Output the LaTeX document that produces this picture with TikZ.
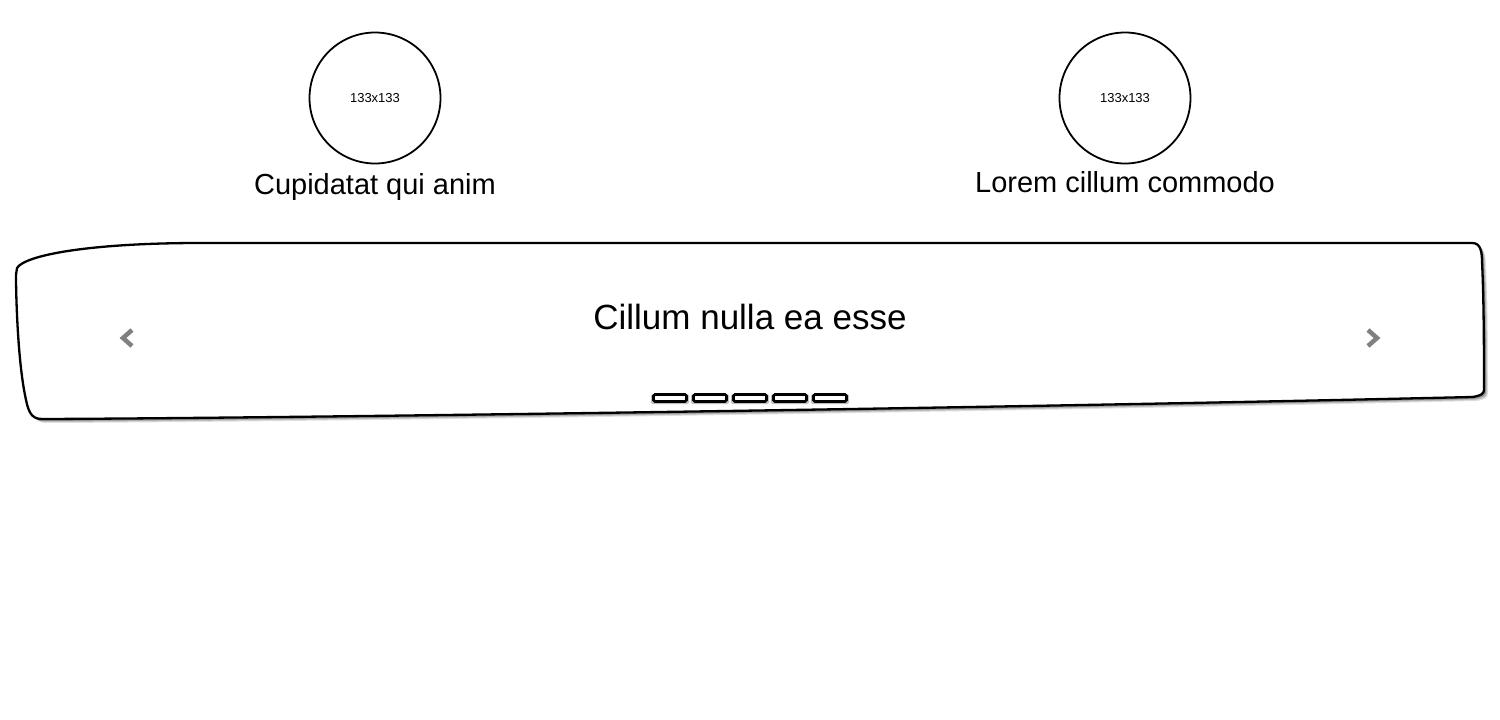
\documentclass[tikz,border=0pt]{standalone}
\usepackage{fontspec}
\setmainfont{Liberation Sans}
\begin{document}
\begin{tikzpicture}[x=1pt,y=-1pt,
  avatar/.style={circle,draw=black,line width=1.8pt,minimum size=131pt,inner sep=0pt,font=\fontsize{13}{15}\selectfont},
  caption/.style={font=\fontsize{29}{34}\selectfont,inner sep=0pt},
  chev/.style={draw=black!50,line width=4.5pt,line cap=butt,line join=miter},
  dotbar/.style={draw=black,fill=white,line width=2.6pt,rounded corners=1.5pt,minimum width=33pt,minimum height=7pt,inner sep=0pt}]
\useasboundingbox (0,0) rectangle (1500,720);
\fill[white] (0,0) rectangle (1500,720);
\newcommand\carouselpath{(17,268) .. controls (25,255) and (90,243) .. (200,243) -- (1472,243) .. controls (1480,243) and (1482,250) .. (1482,262) .. controls (1484,300) and (1484,360) .. (1484,390) .. controls (1484,394) and (1480,396) .. (1472,397) .. controls (1000,408) and (300,418) .. (42,419) .. controls (30,419) and (28,410) .. (25,395) .. controls (18,360) and (16,300) .. (16,275) -- cycle}
% shadow
\foreach \o/\op in {4/0.12,3/0.15,2/0.22}{
  \fill[black,opacity=\op,shift={(\o pt,-\o pt)}] \carouselpath;
}
\fill[white] \carouselpath;
\draw[line width=2.3pt,line join=round] \carouselpath;
\node[avatar] (a1) at (375,98) {133x133};
\node[avatar] (a2) at (1125,98) {133x133};
\node[caption,anchor=base] (c1) at (375,194) {Cupidatat qui anim};
\node[caption,anchor=base] (c2) at (1125,192) {Lorem cillum commodo};
\node[font=\fontsize{35}{40}\selectfont,inner sep=0pt,anchor=base] (t) at (750,329) {Cillum nulla ea esse};
\coordinate (l1) at (132,330); \coordinate (l2) at (123,338); \coordinate (l3) at (132,346);
\draw[chev] (l1) -- (l2) -- (l3);
\coordinate (r1) at (1368,330); \coordinate (r2) at (1377,338); \coordinate (r3) at (1368,346);
\draw[chev] (r1) -- (r2) -- (r3);
\foreach \i/\x in {1/670,2/710,3/750,4/790,5/830}{
  \fill[black,opacity=0.25,rounded corners=2pt] (\x-19,394) rectangle (\x+19,404);
  \node[dotbar] (d\i) at (\x,398) {};
}
\end{tikzpicture}
\end{document}
